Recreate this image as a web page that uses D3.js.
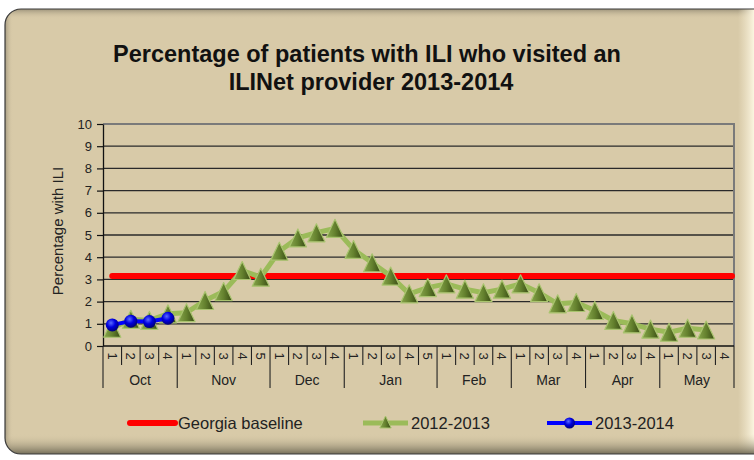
<!DOCTYPE html>
<html>
<head>
<meta charset="utf-8">
<script src="https://cdn.jsdelivr.net/npm/d3@7"></script>
<style>
  html, body { margin: 0; padding: 0; background: #fff; }
  svg { display: block; font-family: Arial, "Liberation Sans", sans-serif; }
</style>
</head>
<body>
<svg id="chart" width="754" height="460"></svg>
<script>
// weeks per month on the x axis
var months = ["Oct", "Nov", "Dec", "Jan", "Feb", "Mar", "Apr", "May"];
var weeksPerMonth = [4, 5, 4, 5, 4, 4, 4, 4];

// Georgia baseline (%)
var baseline = 3.15;

// 2012-2013 season, weekly % ILI (May week 4 missing)
var season1213 = [0.8, 1.2, 1.15, 1.45,
                  1.5, 2.05, 2.45, 3.4, 3.1,
                  4.27, 4.87, 5.1, 5.3,
                  4.35, 3.75, 3.15, 2.35, 2.63,
                  2.8, 2.56, 2.4, 2.56,
                  2.8, 2.4, 1.9, 1.96,
                  1.6, 1.15, 1.0, 0.76,
                  0.62, 0.8, 0.72];

// 2013-2014 season so far
var season1314 = [0.95, 1.12, 1.1, 1.25];

var yTicks = [0, 1, 2, 3, 4, 5, 6, 7, 8, 9, 10];

var svg = d3.select("svg#chart"),
    width = +svg.attr("width"),
    height = +svg.attr("height");

// week list built from the months
var weeks = [];
months.forEach(function(m, i) {
  for (var w = 1; w <= weeksPerMonth[i]; w++) weeks.push({id: m + "-" + w, month: m, week: w});
});

var plot = {left: 103, right: 734, top: 124, bottom: 346};

var x = d3.scaleBand().domain(weeks.map(function(d) { return d.id; }))
    .range([plot.left, plot.right]).padding(0);
var y = d3.scaleLinear().domain([0, 10]).range([plot.bottom, plot.top]);
var cx = function(i) { return x(weeks[i].id) + x.bandwidth() / 2; };

var defs = svg.append("defs");

// ---- frame / background ----
var bottomShade = defs.append("linearGradient").attr("id", "bottomShade")
    .attr("x1", 0).attr("y1", 0).attr("x2", 0).attr("y2", 1);
bottomShade.append("stop").attr("offset", "0%").attr("stop-color", "#d8caa8").attr("stop-opacity", 0);
bottomShade.append("stop").attr("offset", "100%").attr("stop-color", "#5e5a48").attr("stop-opacity", 1);

var rightGlow = defs.append("linearGradient").attr("id", "rightGlow")
    .attr("x1", 0).attr("y1", 0).attr("x2", 1).attr("y2", 0);
rightGlow.append("stop").attr("offset", "0%").attr("stop-color", "#f3ead0").attr("stop-opacity", 0);
rightGlow.append("stop").attr("offset", "100%").attr("stop-color", "#fbf5e0").attr("stop-opacity", 1);

var topShade = defs.append("linearGradient").attr("id", "topShade")
    .attr("x1", 0).attr("y1", 0).attr("x2", 0).attr("y2", 1);
topShade.append("stop").attr("offset", "0%").attr("stop-color", "#8f8670").attr("stop-opacity", 0.8);
topShade.append("stop").attr("offset", "100%").attr("stop-color", "#d8caa8").attr("stop-opacity", 0);

var leftShade = defs.append("linearGradient").attr("id", "leftShade")
    .attr("x1", 0).attr("y1", 0).attr("x2", 1).attr("y2", 0);
leftShade.append("stop").attr("offset", "0%").attr("stop-color", "#8f8670").attr("stop-opacity", 0.7);
leftShade.append("stop").attr("offset", "100%").attr("stop-color", "#d8caa8").attr("stop-opacity", 0);

defs.append("clipPath").attr("id", "frameClip")
  .append("rect").attr("x", 5).attr("y", 9).attr("width", 780).attr("height", 445).attr("rx", 16);

svg.append("rect").attr("x", 5).attr("y", 9).attr("width", 780).attr("height", 445).attr("rx", 16)
    .attr("fill", "#d8caa8");
var fx = svg.append("g").attr("clip-path", "url(#frameClip)");
fx.append("rect").attr("x", 5).attr("y", 9).attr("width", 760).attr("height", 10).attr("fill", "url(#topShade)");
fx.append("rect").attr("x", 5).attr("y", 9).attr("width", 8).attr("height", 450).attr("fill", "url(#leftShade)");
fx.append("rect").attr("x", 738).attr("y", 9).attr("width", 16).attr("height", 450).attr("fill", "url(#rightGlow)");
fx.append("rect").attr("x", 5).attr("y", 434).attr("width", 760).attr("height", 22).attr("fill", "url(#bottomShade)");
svg.append("rect").attr("x", 5).attr("y", 9).attr("width", 780).attr("height", 445).attr("rx", 16)
    .attr("fill", "none").attr("stroke", "#3a3a3a").attr("stroke-width", 1.2);

// ---- title ----
var title = svg.append("text").attr("text-anchor", "middle")
    .attr("font-size", "23.5px").attr("font-weight", "bold").attr("fill", "#111");
title.append("tspan").attr("x", 367).attr("y", 62).text("Percentage of patients with ILI who visited an");
title.append("tspan").attr("x", 371).attr("y", 90).text("ILINet provider 2013-2014");

// ---- grid + axes ----
svg.append("g").selectAll("line").data(yTicks.filter(function(t) { return t > 0 && t < 10; }))
  .enter().append("line")
    .attr("x1", plot.left).attr("x2", plot.right)
    .attr("y1", function(d) { return y(d); }).attr("y2", function(d) { return y(d); })
    .attr("stroke", "#2a2a2a").attr("stroke-width", 1.3);

// top and right border of plot area (grey)
svg.append("path")
    .attr("d", "M" + plot.left + "," + y(10) + "H" + plot.right + "V" + plot.bottom)
    .attr("fill", "none").attr("stroke", "#7a7a7a").attr("stroke-width", 2);

var yAxis = svg.append("g").attr("transform", "translate(" + plot.left + ",0)")
    .call(d3.axisLeft(y).tickValues(yTicks).tickSize(6).tickSizeOuter(0).tickPadding(5));
yAxis.select(".domain").attr("stroke", "#111").attr("stroke-width", 1.3);
yAxis.selectAll(".tick line").attr("stroke", "#111").attr("stroke-width", 1.2);
yAxis.selectAll("text").attr("font-size", "13px").attr("fill", "#222")
    .attr("font-family", "Arial, 'Liberation Sans', sans-serif");

svg.append("text")
    .attr("transform", "translate(63," + ((plot.top + plot.bottom) / 2 - 4) + ") rotate(-90)")
    .attr("text-anchor", "middle").attr("font-size", "15px").attr("fill", "#222")
    .text("Percentage with ILI");

// x axis: baseline
svg.append("line").attr("x1", plot.left).attr("x2", plot.right)
    .attr("y1", plot.bottom).attr("y2", plot.bottom)
    .attr("stroke", "#111").attr("stroke-width", 1.3);

// week separators
var xg = svg.append("g");
var monthStart = {};
weeks.forEach(function(d, i) { if (d.week === 1) monthStart[i] = true; });
xg.selectAll("line.wk").data(d3.range(weeks.length + 1)).enter().append("line")
    .attr("class", "wk")
    .attr("x1", function(i) { return i < weeks.length ? x(weeks[i].id) : plot.right; })
    .attr("x2", function(i) { return i < weeks.length ? x(weeks[i].id) : plot.right; })
    .attr("y1", plot.bottom)
    .attr("y2", function(i) { return (i === weeks.length || monthStart[i]) ? 388 : 365; })
    .attr("stroke", "#222").attr("stroke-width", 1.1);

// week numbers, rotated
xg.selectAll("text.wk").data(weeks).enter().append("text")
    .attr("class", "wk")
    .attr("transform", function(d, i) { return "translate(" + cx(i) + ",356) rotate(90)"; })
    .attr("text-anchor", "middle").attr("dy", "0.35em")
    .attr("font-size", "13px").attr("fill", "#222")
    .text(function(d) { return d.week; });

// month labels
var monthPos = [], acc = 0;
months.forEach(function(m, i) {
  var a = x(weeks[acc].id), b = acc + weeksPerMonth[i] < weeks.length ? x(weeks[acc + weeksPerMonth[i]].id) : plot.right;
  monthPos.push({m: m, mid: (a + b) / 2});
  acc += weeksPerMonth[i];
});
xg.selectAll("text.mo").data(monthPos).enter().append("text")
    .attr("class", "mo").attr("x", function(d) { return d.mid; }).attr("y", 385)
    .attr("text-anchor", "middle").attr("font-size", "14px").attr("fill", "#222")
    .text(function(d) { return d.m; });

// ---- series ----
// baseline
svg.append("line")
    .attr("x1", cx(0)).attr("x2", plot.right - 2)
    .attr("y1", y(baseline)).attr("y2", y(baseline))
    .attr("stroke", "#ff0000").attr("stroke-width", 6).attr("stroke-linecap", "round");

// triangle marker gradient
var triGrad = defs.append("linearGradient").attr("id", "triGrad")
    .attr("x1", 0).attr("y1", 0).attr("x2", 1).attr("y2", 0);
triGrad.append("stop").attr("offset", "0%").attr("stop-color", "#88a64c");
triGrad.append("stop").attr("offset", "50%").attr("stop-color", "#64812e");
triGrad.append("stop").attr("offset", "100%").attr("stop-color", "#384a14");

var dotGrad = defs.append("radialGradient").attr("id", "dotGrad")
    .attr("cx", "40%").attr("cy", "35%").attr("r", "65%");
dotGrad.append("stop").attr("offset", "0%").attr("stop-color", "#5a6cff");
dotGrad.append("stop").attr("offset", "50%").attr("stop-color", "#0000e0");
dotGrad.append("stop").attr("offset", "100%").attr("stop-color", "#00007a");

function triPath(s) { return "M0," + (-s) + "L" + (s * 0.95) + "," + s + "L" + (-s * 0.95) + "," + s + "Z"; }

var line = d3.line().x(function(d, i) { return cx(i); }).y(function(d) { return y(d); });

svg.append("path").datum(season1213).attr("d", line)
    .attr("fill", "none").attr("stroke", "#9bbb59").attr("stroke-width", 5)
    .attr("stroke-linejoin", "round");

svg.append("g").selectAll("path").data(season1213).enter().append("path")
    .attr("transform", function(d, i) { return "translate(" + cx(i) + "," + y(d) + ")"; })
    .attr("d", triPath(9))
    .attr("fill", "url(#triGrad)").attr("stroke", "#a9c46f").attr("stroke-width", 1.2)
    .attr("stroke-linejoin", "round");

svg.append("path").datum(season1314).attr("d", line)
    .attr("fill", "none").attr("stroke", "#0000ff").attr("stroke-width", 4)
    .attr("stroke-linejoin", "round");

svg.append("g").selectAll("circle").data(season1314).enter().append("circle")
    .attr("cx", function(d, i) { return cx(i); }).attr("cy", function(d) { return y(d); })
    .attr("r", 6.5).attr("fill", "url(#dotGrad)");

// ---- legend ----
var legendItems = [
  {label: "Georgia baseline", x: 130, color: "#ff0000", w: 6, marker: null},
  {label: "2012-2013", x: 363, color: "#9bbb59", w: 5, marker: "tri"},
  {label: "2013-2014", x: 547, color: "#0000ff", w: 4, marker: "dot"}
];
var lg = svg.append("g").selectAll("g").data(legendItems).enter().append("g")
    .attr("transform", function(d) { return "translate(" + d.x + ",423)"; });
lg.append("line").attr("x1", 0).attr("x2", 45)
    .attr("stroke", function(d) { return d.color; })
    .attr("stroke-width", function(d) { return d.w; })
    .attr("stroke-linecap", function(d) { return d.marker ? "butt" : "round"; });
lg.filter(function(d) { return d.marker === "tri"; }).append("path")
    .attr("transform", "translate(22.5,-1)").attr("d", triPath(6))
    .attr("fill", "url(#triGrad)").attr("stroke", "#a9c46f").attr("stroke-width", 1);
lg.filter(function(d) { return d.marker === "dot"; }).append("circle")
    .attr("cx", 22.5).attr("r", 5.5).attr("fill", "url(#dotGrad)");
lg.append("text").attr("x", 48).attr("dy", "0.36em")
    .attr("font-size", "16.5px").attr("fill", "#222")
    .text(function(d) { return d.label; });
</script>
</body>
</html>
